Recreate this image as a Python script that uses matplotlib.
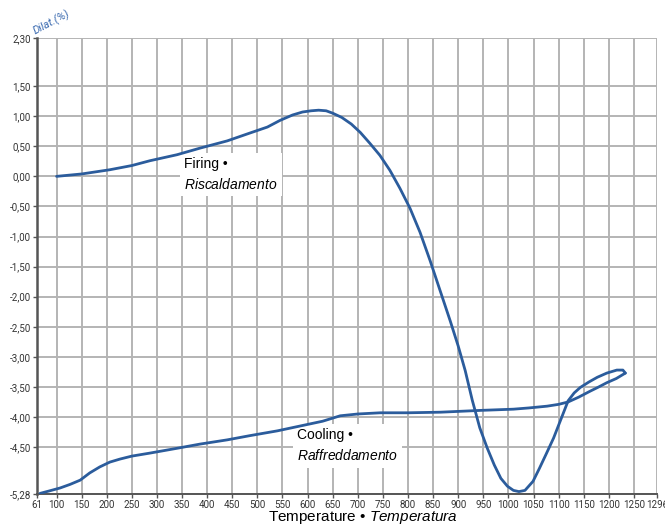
import matplotlib
matplotlib.use("Agg")
import matplotlib.pyplot as plt

# Dilatometric curve of a ceramic body: firing (heating) and cooling branches
firing_temp = [100, 150, 206, 250, 286, 340, 386, 440, 485, 520, 545, 570, 590, 607,
               622, 637, 650, 668, 687, 705, 724, 744, 764, 784, 804, 824, 844, 864,
               884, 900, 914, 928, 943, 958, 972, 985, 998, 1010, 1021, 1033, 1049,
               1062, 1075, 1090, 1105, 1119, 1131, 1143, 1160, 1177, 1196, 1216, 1228, 1233]
firing_dil = [0.00, 0.04, 0.11, 0.18, 0.26, 0.36, 0.47, 0.59, 0.72, 0.82, 0.93, 1.02, 1.07, 1.09,
              1.10, 1.09, 1.05, 0.98, 0.87, 0.73, 0.55, 0.35, 0.10, -0.20, -0.53, -0.93, -1.40, -1.90,
              -2.40, -2.82, -3.23, -3.72, -4.18, -4.52, -4.80, -5.02, -5.15, -5.22, -5.24, -5.22, -5.07,
              -4.85, -4.62, -4.35, -4.03, -3.73, -3.60, -3.51, -3.42, -3.34, -3.27, -3.22, -3.22, -3.27]

cooling_temp = [1233, 1215, 1196, 1180, 1163, 1140, 1119, 1100, 1077, 1040, 1010, 945, 865,
                800, 745, 700, 665, 630, 585, 540, 485, 440, 386, 340, 286, 250, 226, 206,
                186, 166, 147, 127, 107, 85, 67]
cooling_dil = [-3.27, -3.36, -3.43, -3.50, -3.57, -3.67, -3.75, -3.79, -3.82, -3.85, -3.87, -3.89, -3.92,
               -3.93, -3.93, -3.95, -3.98, -4.07, -4.15, -4.23, -4.31, -4.38, -4.45, -4.52, -4.60, -4.65,
               -4.70, -4.75, -4.83, -4.93, -5.05, -5.12, -5.18, -5.23, -5.27]

x_ticks = [61, 100, 150, 200, 250, 300, 350, 400, 450, 500, 550, 600, 650, 700, 750,
           800, 850, 900, 950, 1000, 1050, 1100, 1150, 1200, 1250, 1296]
y_ticks = [2.30, 1.50, 1.00, 0.50, 0.00, -0.50, -1.00, -1.50, -2.00, -2.50, -3.00,
           -3.50, -4.00, -4.50, -5.28]

text_font = "Liberation Sans"
tick_font = "Roboto"

# italic parts of the bilingual labels are set through mathtext in the same family
plt.rcParams["mathtext.fontset"] = "custom"
plt.rcParams["mathtext.rm"] = text_font
plt.rcParams["mathtext.it"] = text_font + ":italic"

line_color = "#2b5c9c"
grid_color = "#b4b4b4"
axis_color = "#555555"

fig = plt.figure(figsize=(6.65, 5.25), dpi=100)
ax = fig.add_axes([37 / 665, 1 - 494 / 525, 620 / 665, 456 / 525])

ax.set_xlim(x_ticks[0], x_ticks[-1])
ax.set_ylim(y_ticks[-1], y_ticks[0])

ax.set_xticks(x_ticks)
ax.set_yticks(y_ticks)
ax.set_xticklabels([str(t) for t in x_ticks])
ax.set_yticklabels([f"{v:.2f}".replace(".", ",") for v in y_ticks])

for lbl in ax.get_xticklabels() + ax.get_yticklabels():
    lbl.set_fontfamily(tick_font)
    lbl.set_fontsize(7.0)
    lbl.set_color("#333333")

ax.tick_params(axis="both", direction="out", length=3, width=1, color=axis_color, pad=1.5)
ax.grid(True, color=grid_color, linewidth=1.4)
ax.set_axisbelow(True)

for side in ("top", "right"):
    ax.spines[side].set_visible(False)
ax.spines["left"].set_color(axis_color)
ax.spines["left"].set_linewidth(1.8)
ax.spines["bottom"].set_color(axis_color)
ax.spines["bottom"].set_linewidth(1.4)

ax.plot(firing_temp, firing_dil, color=line_color, linewidth=2.0, solid_joinstyle="round",
        solid_capstyle="round", zorder=5)
ax.plot(cooling_temp, cooling_dil, color=line_color, linewidth=2.0, solid_joinstyle="round",
        solid_capstyle="round", zorder=5)

# Curve labels on white patches
box = dict(facecolor="white", edgecolor="none", pad=3.0)
ax.text(354, 0.03, "Firing \u2022\n$\\mathit{Riscaldamento}$", fontsize=10, family=text_font,
        va="center", ha="left", linespacing=1.5, zorder=4, bbox=box)
ax.text(579, -4.48, "Cooling \u2022\n$\\mathit{Raffreddamento}$", fontsize=10, family=text_font,
        va="center", ha="left", linespacing=1.5, zorder=4, bbox=box)

# Axis titles
fig.text(363 / 665, 1 - 521 / 525, "Temperature \u2022 $\\mathit{Temperatura}$", fontsize=11,
         family=text_font, ha="center", va="baseline")
fig.text(37 / 665, 1 - 37 / 525, "Dilat.(%)", fontsize=8, family=tick_font,
         color="#3a6ab0", style="italic", rotation=28,
         ha="left", va="bottom", rotation_mode="anchor")

fig.savefig("out.png", dpi=100, facecolor="white")
